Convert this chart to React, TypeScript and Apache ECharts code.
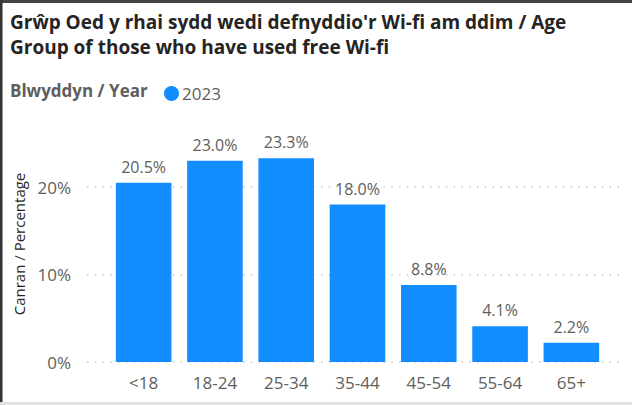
import React, { useEffect, useRef } from "react";
import * as echarts from "echarts";

const titleLines = [
  "Grŵp Oed y rhai sydd wedi defnyddio'r Wi-fi am ddim / Age",
  "Group of those who have used free Wi-fi",
];
const legendTitle = "Blwyddyn / Year";
const seriesName = "2023";
const categories = ["<18", "18-24", "25-34", "35-44", "45-54", "55-64", "65+"];
const values = [20.5, 23.0, 23.3, 18.0, 8.8, 4.1, 2.2];
const yAxisTitle = "Canran / Percentage";

const FONT = "'Open Sans', 'Noto Sans', sans-serif";
const BLUE = "#118DFF";
const GRAY = "#605E5C";

export default function App() {
  const ref = useRef<HTMLDivElement>(null);
  useEffect(() => {
    document.body.style.margin = "0";
    const chart = echarts.init(ref.current!, null, { renderer: "svg" });
    const yCommon = {
      type: "value" as const,
      min: 0,
      max: 25,
      interval: 10,
    };
    chart.setOption({
      animation: false,
      textStyle: { fontFamily: FONT },
      title: {
        text: titleLines.join("\n"),
        left: 10,
        top: 9,
        padding: 0,
        textStyle: {
          fontFamily: FONT,
          fontSize: 19,
          fontWeight: "bold",
          lineHeight: 25,
          color: "#252423",
        },
      },
      legend: {
        left: 164,
        top: 85,
        padding: 0,
        icon: "circle",
        itemWidth: 15,
        itemHeight: 15,
        itemGap: 5,
        textStyle: { fontFamily: FONT, fontSize: 17, color: GRAY, padding: [0, 0, 0, -2] },
        data: [seriesName],
      },
      grid: [
        { left: 108, right: 25, top: 143.25, bottom: 43 },
        { left: 87, right: 8, top: 143.25, bottom: 43 },
      ],
      xAxis: [
        {
          type: "category",
          gridIndex: 0,
          data: categories,
          axisLine: { show: false },
          axisTick: { show: false },
          axisLabel: { fontFamily: FONT, fontSize: 17, color: GRAY, margin: 12 },
        },
        { type: "value", gridIndex: 1, show: false },
      ],
      yAxis: [
        { ...yCommon, gridIndex: 0, show: false, splitLine: { show: false } },
        {
          ...yCommon,
          gridIndex: 1,
          axisLine: { show: false },
          axisTick: { show: false },
          axisLabel: {
            fontFamily: FONT,
            fontSize: 17,
            color: GRAY,
            margin: 16,
            showMaxLabel: false,
            formatter: (v: number) => `${v}%`,
          },
          splitLine: {
            show: true,
            showMaxLine: false,
            lineStyle: { color: "#C8C6C4", width: 1.5, type: [1.5, 6.3] },
          },
        },
      ],
      graphic: [
        { type: "rect", shape: { x: 0, y: 0, width: 632, height: 3 }, style: { fill: "#444" }, silent: true },
        { type: "rect", shape: { x: 0, y: 0, width: 2.5, height: 405 }, style: { fill: "#333" }, silent: true },
        { type: "rect", shape: { x: 0, y: 402, width: 632, height: 3 }, style: { fill: "#E1E1E1" }, silent: true },
        {
          type: "text",
          left: 10,
          top: 82,
          style: { text: legendTitle, fontFamily: FONT, fontSize: 17, fontWeight: "bold", fill: GRAY },
        },
        {
          type: "text",
          x: 19,
          y: 244,
          rotation: Math.PI / 2,
          style: {
            text: yAxisTitle,
            fontFamily: FONT,
            fontSize: 15,
            fill: "#252423",
            align: "center",
            verticalAlign: "middle",
          },
        },
      ],
      series: [
        {
          type: "bar",
          name: seriesName,
          xAxisIndex: 0,
          yAxisIndex: 0,
          data: values,
          barCategoryGap: "22%",
          itemStyle: { color: BLUE },
          label: {
            show: true,
            position: "top",
            distance: 8,
            fontFamily: FONT,
            fontSize: 16,
            color: GRAY,
            formatter: (p: any) => `${p.value.toFixed(1)}%`,
          },
        },
      ],
    });
    return () => chart.dispose();
  }, []);
  return <div ref={ref} style={{ width: 632, height: 405 }} />;
}
